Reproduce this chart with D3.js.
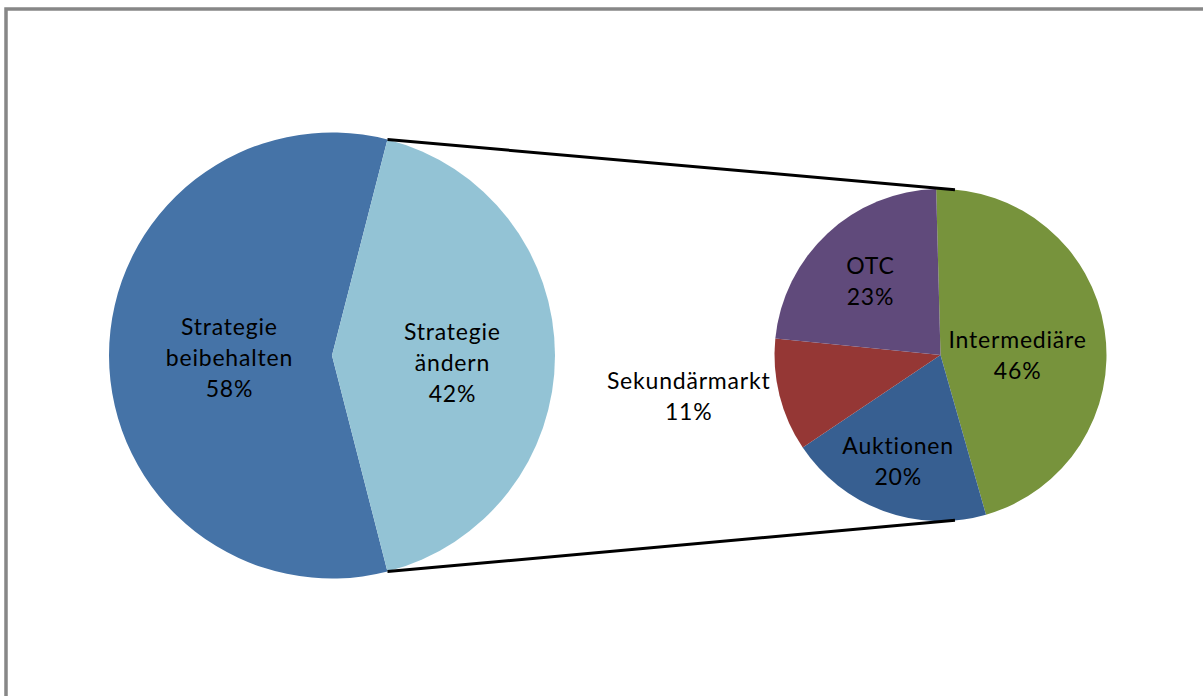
<!DOCTYPE html>
<html>
<head>
<meta charset="utf-8">
<script src="https://cdn.jsdelivr.net/npm/d3@7"></script>
<style>
  html, body { margin: 0; padding: 0; background: #fff; }
  svg { display: block; }
</style>
</head>
<body>
<svg id="chart"></svg>
<script>
// Data
const mainLabels = ["Strategie beibehalten", "Strategie ändern"];
const mainLines = [["Strategie", "beibehalten"], ["Strategie", "ändern"]];
const mainValues = [58, 42];

const subLabels = ["Intermediäre", "Auktionen", "Sekundärmarkt", "OTC"];
const subValues = [46, 20, 11, 23];

const mainColors = ["#4573a7", "#93c3d5"];
const subColors = ["#77933c", "#375f91", "#953735", "#604a7b"];

const width = 1203, height = 696;
const svg = d3.select("#chart").attr("width", width).attr("height", height);

// chart frame (right/bottom edges run off the picture)
svg.append("rect")
  .attr("x", 6).attr("y", 9)
  .attr("width", 1220).attr("height", 720)
  .attr("fill", "#fff")
  .attr("stroke", "#878787")
  .attr("stroke-width", 3.5);

const deg = Math.PI / 180;
const main = { cx: 332, cy: 355.5, r: 223 };
const sub = { cx: 940.5, cy: 355, r: 166 };

// split slice of main pie is centred on the east side
const total = d3.sum(mainValues);
const splitShare = mainValues[1] / total;
const mainStart = Math.PI / 2 - (1 - splitShare / 2) * 2 * Math.PI;

const mainPie = d3.pie().sort(null).value(d => d)
  .startAngle(mainStart).endAngle(mainStart + 2 * Math.PI);
const subPie = d3.pie().sort(null).value(d => d)
  .startAngle(-1.5 * deg).endAngle(-1.5 * deg + 2 * Math.PI);

const mainArcs = mainPie(mainValues);
const subArcs = subPie(subValues);

const mainArc = d3.arc().innerRadius(0).outerRadius(main.r);
const subArc = d3.arc().innerRadius(0).outerRadius(sub.r);

const font = "Lato, 'Open Sans', sans-serif";
const fontSize = 23;
const lineH = 31;

const gMain = svg.append("g").attr("transform", `translate(${main.cx},${main.cy})`);
gMain.selectAll("path").data(mainArcs).enter().append("path")
  .attr("d", mainArc)
  .attr("fill", (d, i) => mainColors[i]);

const gSub = svg.append("g").attr("transform", `translate(${sub.cx},${sub.cy})`);
gSub.selectAll("path").data(subArcs).enter().append("path")
  .attr("d", subArc)
  .attr("fill", (d, i) => subColors[i]);

// connector lines from split slice edges to the second pie
const polar = (c, r, a) => [c.cx + r * Math.sin(a), c.cy - r * Math.cos(a)];
const split = mainArcs[1];
const connectAngle = 5 * deg;
const connectors = [
  [polar(main, main.r, split.startAngle), polar(sub, sub.r, connectAngle)],
  [polar(main, main.r, split.endAngle), polar(sub, sub.r, Math.PI - connectAngle)]
];
svg.selectAll("line.conn").data(connectors).enter().append("line")
  .attr("class", "conn")
  .attr("x1", d => d[0][0]).attr("y1", d => d[0][1])
  .attr("x2", d => d[1][0]).attr("y2", d => d[1][1])
  .attr("stroke", "#000")
  .attr("stroke-width", 3);

// label helper: block of lines centred on (x, y)
function drawLabel(x, y, lines) {
  const t = svg.append("text")
    .attr("font-family", font)
    .attr("font-size", fontSize)
    .attr("letter-spacing", 0.8)
    .attr("fill", "#000")
    .attr("text-anchor", "middle");
  const top = y - (lines.length - 1) * lineH / 2;
  lines.forEach((s, i) => {
    t.append("tspan").attr("x", x).attr("y", top + i * lineH).attr("dy", "0.35em").text(s);
  });
  return t;
}

const pct = v => Math.round(v) + "%";

// main pie labels
const mainLabelR = [0.46, 0.54];
const mainLabelDy = [2, 7];
mainArcs.forEach((a, i) => {
  const mid = (a.startAngle + a.endAngle) / 2;
  const [x, y] = polar(main, main.r * mainLabelR[i], mid);
  drawLabel(x, y + mainLabelDy[i], [...mainLines[i], pct(mainValues[i] / total * 100)]);
});

// second pie labels; null = placed outside the pie
const subTotal = d3.sum(subValues);
const subLabelR = [0.47, 0.69, null, 0.62];
const subLabelDy = [12, -1, 1, 2];
subArcs.forEach((a, i) => {
  const mid = (a.startAngle + a.endAngle) / 2;
  const lines = [subLabels[i], pct(subValues[i] / subTotal * 100)];
  if (subLabelR[i] === null) {
    const [ex, ey] = polar(sub, sub.r, mid);
    const t = drawLabel(0, ey + subLabelDy[i], lines);
    const w = t.select("tspan").node().getComputedTextLength();
    const x = ex - 9 - w / 2;
    t.selectAll("tspan").attr("x", x);
  } else {
    const [x, y] = polar(sub, sub.r * subLabelR[i], mid);
    drawLabel(x - (i === 1 ? 3 : 0), y + subLabelDy[i], lines);
  }
});
</script>
</body>
</html>
